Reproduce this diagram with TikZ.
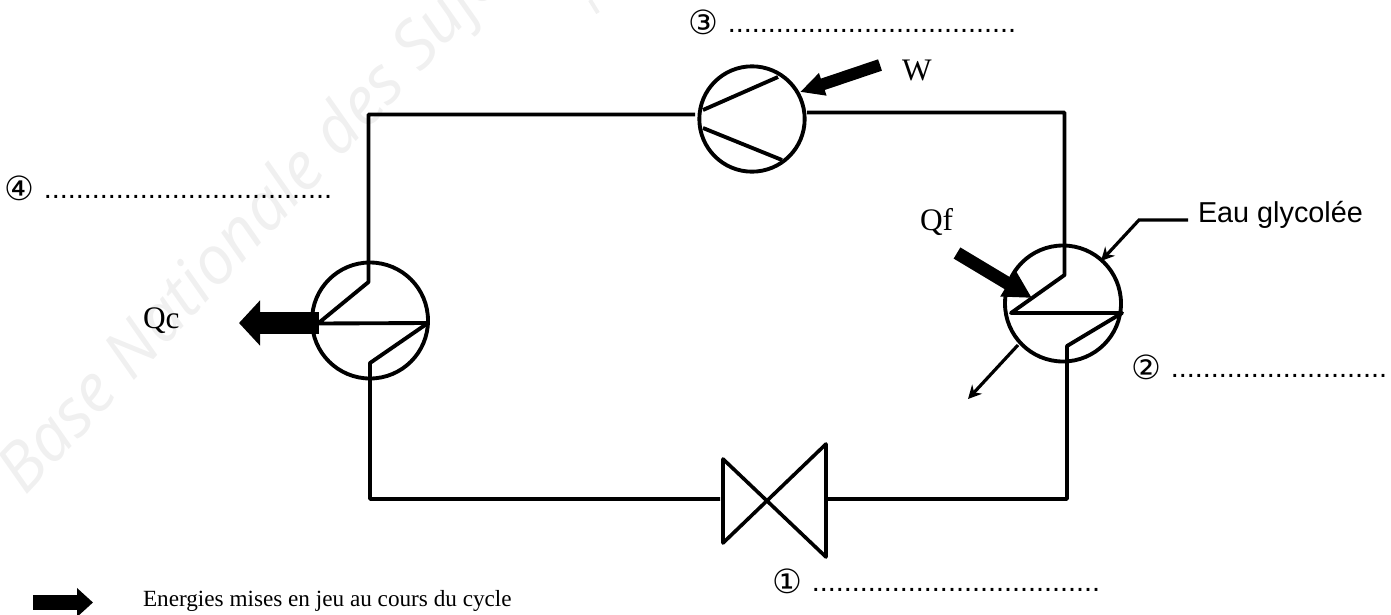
\documentclass[tikz,border=0pt]{standalone}
\usepackage{fontspec}
\usepackage{xcolor}
\usetikzlibrary{arrows.meta}
\setmainfont{Liberation Serif}
\setsansfont{Liberation Sans}
\newfontfamily\circfont{DejaVu Sans}
\newfontfamily\markfont{Open Sans}
\definecolor{stampgray}{HTML}{F0F0F0}
\tikzset{
  pipe/.style={line width=2.9pt, line join=round},
  wheel/.style={circle, draw, line width=2.9pt, inner sep=0pt, outer sep=0pt},
  valvepipe/.style={line width=2.7pt, line join=round, line cap=round},
  flux/.style n args={3}{line width=#1*0.75pt, -{Triangle[length=#2*0.75pt, width=#3*0.75pt]}},
  arr/.style={line width=2.4pt, -{Stealth[length=10pt, width=10pt]}},
  lbl/.style={anchor=base west, inner sep=0pt, outer sep=0pt, font=\fontsize{23.5}{24}\selectfont},
  legendtxt/.style={anchor=base west, inner sep=0pt, outer sep=0pt, font=\fontsize{17.4}{20}\selectfont},
  sanstxt/.style={anchor=base west, inner sep=0pt, outer sep=0pt, font=\sffamily\fontsize{21.6}{24}\selectfont},
}
\newcommand{\num}[1]{\raisebox{-2.2pt}{\circfont\fontsize{25}{26}\selectfont #1}}

\begin{document}
\begin{tikzpicture}[x=0.75pt, y=-0.75pt]
\useasboundingbox (0,0) rectangle (1391,614);
\begin{scope}
\clip (0,0) rectangle (1391,614);
\node[anchor=base west, inner sep=0pt, rotate=47, text=stampgray, font=\markfont\itshape\fontsize{50}{50}\selectfont] (stamp) at (25,497) {Base Nationale des Sujets};
\draw[stampgray, line width=3pt] (590,0) -- (598,13);
\end{scope}

\node[wheel, minimum size=79pt] (comp) at (752,119) {};
\node[wheel, minimum size=87pt] (cond) at (370,320.5) {};
\node[wheel, minimum size=87pt] (evap) at (1063,303.5) {};

\coordinate (compin) at (695,114.5);
\coordinate (compout) at (807,112.5);
\coordinate (condknee) at (368.5,282);
\coordinate (condmid) at (318,323.5);
\coordinate (condend) at (428,323);
\coordinate (condlow) at (370,363);
\coordinate (evapknee) at (1064.5,275);
\coordinate (evapmid) at (1011,313);
\coordinate (evapend) at (1122,313);
\coordinate (evaplow) at (1067,346);
\coordinate (valvein) at (720,499);
\coordinate (valveout) at (828,499);

\draw[pipe] (compin) -| (condknee) -- (condmid) -- (condend) -- (condlow) |- (valvein);
\draw[pipe] (compout) -| (evapknee) -- (evapmid) -- (evapend) -- (evaplow) |- (valveout);

\draw[pipe] (703,110) -- (778,77);
\draw[pipe] (703,128) -- (782,160);
\draw[valvepipe] (723,459) -- (723,543) -- (826,444) -- (826,557) -- cycle;

\draw[flux={12}{24}{22}] (880,65) -- (800,92);
\draw[flux={13}{28}{28}] (957,253) -- (1032,298);
\draw[flux={22}{21}{44}] (319,323) -- (239,323);
\draw[flux={15}{16}{28}] (33,602.5) -- (93,602.5);
\draw[arr] (1188,220) -- (1139,220) -- (1101,261);
\draw[arr] (1018,345) -- (968,399);

\node[lbl] (w) at (902,80) {W};
\node[lbl] (qf) at (920,230) {Qf};
\node[lbl] (qc) at (143,328) {Qc};
\node[sanstxt] (eau) at (1198,222) {Eau glycolée};
\node[legendtxt] (legend) at (143,606) {Energies mises en jeu au cours du cycle};

\node[sanstxt] (n3) at (688,32) {\num{③}\hspace{7.5pt}....................................};
\node[sanstxt] (n4) at (4,198) {\num{④}\hspace{7.5pt}....................................};
\node[sanstxt] (n2) at (1131,377) {\num{②}\hspace{7.5pt}...........................};
\node[sanstxt] (n1) at (772,591) {\num{①}\hspace{7.5pt}....................................};
\end{tikzpicture}
\end{document}
